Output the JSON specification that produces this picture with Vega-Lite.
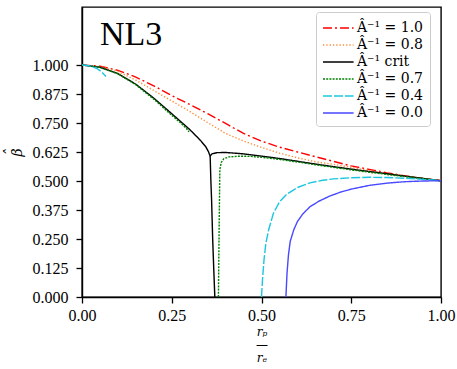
{
  "$schema": "https://vega.github.io/schema/vega-lite/v6.json",
  "width": 359,
  "height": 290,
  "autosize": {"type": "none"},
  "padding": {"left": 82, "top": 7, "right": 16, "bottom": 72},
  "background": "white",
  "config": {
    "view": {"stroke": "black", "strokeWidth": 1.4},
    "font": "Liberation Serif",
    "axis": {
      "grid": false,
      "labelFont": "Liberation Serif",
      "labelFontSize": 16,
      "labelColor": "black",
      "labelFlush": false,
      "labelOverlap": false,
      "tickColor": "black",
      "domainColor": "black",
      "tickSize": 6,
      "tickWidth": 1.3,
      "domainWidth": 1.4,
      "titleFont": "DejaVu Serif",
      "titleFontWeight": "normal",
      "titleFontStyle": "italic",
      "titleColor": "black",
      "titleFontSize": 14
    }
  },
  "encoding": {
    "x": {
      "field": "x", "type": "quantitative",
      "scale": {"domain": [0, 1], "nice": false, "zero": false},
      "axis": {"values": [0, 0.25, 0.5, 0.75, 1], "format": ".2f", "labelPadding": 4, "labelOverlap": false,
               "title": ["rₚ", "—", "rₑ"], "titleFontSize": 12, "titleLineHeight": 13, "titlePadding": 3}
    },
    "y": {
      "field": "y", "type": "quantitative",
      "scale": {"domain": [0, 1.25], "nice": false, "zero": false},
      "axis": {"values": [0, 0.125, 0.25, 0.375, 0.5, 0.625, 0.75, 0.875, 1.0], "format": ".3f",
               "labelOverlap": false, "labelPadding": 8, "title": ["ˆ", "β"], "titleLineHeight": 7, "titlePadding": 8}
    }
  },
  "layer": [
    {
      "data": {
        "values": [
          {"s": "1.0", "g": "r", "x": 0, "y": 1},
          {"s": "1.0", "g": "r", "x": 0.05, "y": 0.995},
          {"s": "1.0", "g": "r", "x": 0.1, "y": 0.977},
          {"s": "1.0", "g": "r", "x": 0.15, "y": 0.948},
          {"s": "1.0", "g": "r", "x": 0.2, "y": 0.91},
          {"s": "1.0", "g": "r", "x": 0.25, "y": 0.868},
          {"s": "1.0", "g": "r", "x": 0.3, "y": 0.83},
          {"s": "1.0", "g": "r", "x": 0.35, "y": 0.79},
          {"s": "1.0", "g": "r", "x": 0.4, "y": 0.748},
          {"s": "1.0", "g": "r", "x": 0.45, "y": 0.705},
          {"s": "1.0", "g": "r", "x": 0.5, "y": 0.672},
          {"s": "1.0", "g": "r", "x": 0.55, "y": 0.646},
          {"s": "1.0", "g": "r", "x": 0.6, "y": 0.625},
          {"s": "1.0", "g": "r", "x": 0.65, "y": 0.605},
          {"s": "1.0", "g": "r", "x": 0.7, "y": 0.585},
          {"s": "1.0", "g": "r", "x": 0.75, "y": 0.565},
          {"s": "1.0", "g": "r", "x": 0.8, "y": 0.55},
          {"s": "1.0", "g": "r", "x": 0.85, "y": 0.535},
          {"s": "1.0", "g": "r", "x": 0.9, "y": 0.522},
          {"s": "1.0", "g": "r", "x": 0.95, "y": 0.511},
          {"s": "1.0", "g": "r", "x": 1, "y": 0.502},

          {"s": "0.8", "g": "o", "x": 0, "y": 1},
          {"s": "0.8", "g": "o", "x": 0.05, "y": 0.993},
          {"s": "0.8", "g": "o", "x": 0.1, "y": 0.972},
          {"s": "0.8", "g": "o", "x": 0.15, "y": 0.935},
          {"s": "0.8", "g": "o", "x": 0.2, "y": 0.89},
          {"s": "0.8", "g": "o", "x": 0.25, "y": 0.845},
          {"s": "0.8", "g": "o", "x": 0.3, "y": 0.8},
          {"s": "0.8", "g": "o", "x": 0.35, "y": 0.752},
          {"s": "0.8", "g": "o", "x": 0.4, "y": 0.705},
          {"s": "0.8", "g": "o", "x": 0.45, "y": 0.672},
          {"s": "0.8", "g": "o", "x": 0.5, "y": 0.645},
          {"s": "0.8", "g": "o", "x": 0.55, "y": 0.62},
          {"s": "0.8", "g": "o", "x": 0.6, "y": 0.6},
          {"s": "0.8", "g": "o", "x": 0.65, "y": 0.583},
          {"s": "0.8", "g": "o", "x": 0.7, "y": 0.572},
          {"s": "0.8", "g": "o", "x": 0.75, "y": 0.559},
          {"s": "0.8", "g": "o", "x": 0.8, "y": 0.545},
          {"s": "0.8", "g": "o", "x": 0.85, "y": 0.533},
          {"s": "0.8", "g": "o", "x": 0.9, "y": 0.522},
          {"s": "0.8", "g": "o", "x": 0.95, "y": 0.511},
          {"s": "0.8", "g": "o", "x": 1, "y": 0.501},

          {"s": "crit", "g": "ku", "x": 0, "y": 1},
          {"s": "crit", "g": "ku", "x": 0.05, "y": 0.99},
          {"s": "crit", "g": "ku", "x": 0.1, "y": 0.963},
          {"s": "crit", "g": "ku", "x": 0.15, "y": 0.917},
          {"s": "crit", "g": "ku", "x": 0.2, "y": 0.857},
          {"s": "crit", "g": "ku", "x": 0.25, "y": 0.79},
          {"s": "crit", "g": "ku", "x": 0.3, "y": 0.722},
          {"s": "crit", "g": "ku", "x": 0.33, "y": 0.675},
          {"s": "crit", "g": "ku", "x": 0.345, "y": 0.647},
          {"s": "crit", "g": "ku", "x": 0.352, "y": 0.627},
          {"s": "crit", "g": "ku", "x": 0.357, "y": 0.607},
          {"s": "crit", "g": "ku", "x": 0.362, "y": 0.617},
          {"s": "crit", "g": "ku", "x": 0.375, "y": 0.622},
          {"s": "crit", "g": "ku", "x": 0.4, "y": 0.623},
          {"s": "crit", "g": "ku", "x": 0.45, "y": 0.617},
          {"s": "crit", "g": "ku", "x": 0.5, "y": 0.607},
          {"s": "crit", "g": "ku", "x": 0.55, "y": 0.597},
          {"s": "crit", "g": "ku", "x": 0.6, "y": 0.585},
          {"s": "crit", "g": "ku", "x": 0.65, "y": 0.573},
          {"s": "crit", "g": "ku", "x": 0.7, "y": 0.562},
          {"s": "crit", "g": "ku", "x": 0.75, "y": 0.551},
          {"s": "crit", "g": "ku", "x": 0.8, "y": 0.541},
          {"s": "crit", "g": "ku", "x": 0.85, "y": 0.531},
          {"s": "crit", "g": "ku", "x": 0.9, "y": 0.521},
          {"s": "crit", "g": "ku", "x": 0.95, "y": 0.511},
          {"s": "crit", "g": "ku", "x": 1, "y": 0.501},
          {"s": "crit", "g": "kd", "x": 0.357, "y": 0.607},
          {"s": "crit", "g": "kd", "x": 0.359, "y": 0.5},
          {"s": "crit", "g": "kd", "x": 0.361, "y": 0.418},
          {"s": "crit", "g": "kd", "x": 0.364, "y": 0.25},
          {"s": "crit", "g": "kd", "x": 0.367, "y": 0.12},
          {"s": "crit", "g": "kd", "x": 0.37, "y": 0},

          {"s": "0.7", "g": "gu", "x": 0, "y": 1},
          {"s": "0.7", "g": "gu", "x": 0.05, "y": 0.99},
          {"s": "0.7", "g": "gu", "x": 0.1, "y": 0.962},
          {"s": "0.7", "g": "gu", "x": 0.15, "y": 0.915},
          {"s": "0.7", "g": "gu", "x": 0.2, "y": 0.853},
          {"s": "0.7", "g": "gu", "x": 0.25, "y": 0.783},
          {"s": "0.7", "g": "gu", "x": 0.275, "y": 0.75},
          {"s": "0.7", "g": "gu", "x": 0.29, "y": 0.728},
          {"s": "0.7", "g": "gu", "x": 0.298, "y": 0.712},
          {"s": "0.7", "g": "gd", "x": 0.38, "y": 0},
          {"s": "0.7", "g": "gd", "x": 0.382, "y": 0.3},
          {"s": "0.7", "g": "gd", "x": 0.384, "y": 0.55},
          {"s": "0.7", "g": "gd", "x": 0.388, "y": 0.58},
          {"s": "0.7", "g": "gd", "x": 0.395, "y": 0.596},
          {"s": "0.7", "g": "gd", "x": 0.41, "y": 0.604},
          {"s": "0.7", "g": "gd", "x": 0.44, "y": 0.607},
          {"s": "0.7", "g": "gd", "x": 0.47, "y": 0.606},
          {"s": "0.7", "g": "gd", "x": 0.5, "y": 0.602},
          {"s": "0.7", "g": "gd", "x": 0.55, "y": 0.593},
          {"s": "0.7", "g": "gd", "x": 0.6, "y": 0.582},
          {"s": "0.7", "g": "gd", "x": 0.65, "y": 0.57},
          {"s": "0.7", "g": "gd", "x": 0.7, "y": 0.559},
          {"s": "0.7", "g": "gd", "x": 0.75, "y": 0.548},
          {"s": "0.7", "g": "gd", "x": 0.8, "y": 0.538},
          {"s": "0.7", "g": "gd", "x": 0.85, "y": 0.528},
          {"s": "0.7", "g": "gd", "x": 0.9, "y": 0.519},
          {"s": "0.7", "g": "gd", "x": 0.95, "y": 0.51},
          {"s": "0.7", "g": "gd", "x": 1, "y": 0.5},

          {"s": "0.4", "g": "cu", "x": 0, "y": 1},
          {"s": "0.4", "g": "cu", "x": 0.02, "y": 0.997},
          {"s": "0.4", "g": "cu", "x": 0.04, "y": 0.986},
          {"s": "0.4", "g": "cu", "x": 0.055, "y": 0.97},
          {"s": "0.4", "g": "cu", "x": 0.067, "y": 0.95},
          {"s": "0.4", "g": "cd", "x": 0.5, "y": 0},
          {"s": "0.4", "g": "cd", "x": 0.503, "y": 0.08},
          {"s": "0.4", "g": "cd", "x": 0.507, "y": 0.16},
          {"s": "0.4", "g": "cd", "x": 0.512, "y": 0.23},
          {"s": "0.4", "g": "cd", "x": 0.52, "y": 0.29},
          {"s": "0.4", "g": "cd", "x": 0.533, "y": 0.36},
          {"s": "0.4", "g": "cd", "x": 0.55, "y": 0.41},
          {"s": "0.4", "g": "cd", "x": 0.57, "y": 0.443},
          {"s": "0.4", "g": "cd", "x": 0.6, "y": 0.472},
          {"s": "0.4", "g": "cd", "x": 0.635, "y": 0.492},
          {"s": "0.4", "g": "cd", "x": 0.67, "y": 0.503},
          {"s": "0.4", "g": "cd", "x": 0.7, "y": 0.509},
          {"s": "0.4", "g": "cd", "x": 0.75, "y": 0.514},
          {"s": "0.4", "g": "cd", "x": 0.8, "y": 0.516},
          {"s": "0.4", "g": "cd", "x": 0.85, "y": 0.515},
          {"s": "0.4", "g": "cd", "x": 0.9, "y": 0.512},
          {"s": "0.4", "g": "cd", "x": 0.95, "y": 0.507},
          {"s": "0.4", "g": "cd", "x": 1, "y": 0.502},

          {"s": "0.0", "g": "b", "x": 0.568, "y": 0},
          {"s": "0.0", "g": "b", "x": 0.571, "y": 0.1},
          {"s": "0.0", "g": "b", "x": 0.575, "y": 0.18},
          {"s": "0.0", "g": "b", "x": 0.58, "y": 0.24},
          {"s": "0.0", "g": "b", "x": 0.59, "y": 0.29},
          {"s": "0.0", "g": "b", "x": 0.6, "y": 0.325},
          {"s": "0.0", "g": "b", "x": 0.615, "y": 0.358},
          {"s": "0.0", "g": "b", "x": 0.635, "y": 0.389},
          {"s": "0.0", "g": "b", "x": 0.66, "y": 0.413},
          {"s": "0.0", "g": "b", "x": 0.69, "y": 0.435},
          {"s": "0.0", "g": "b", "x": 0.72, "y": 0.452},
          {"s": "0.0", "g": "b", "x": 0.75, "y": 0.465},
          {"s": "0.0", "g": "b", "x": 0.8, "y": 0.481},
          {"s": "0.0", "g": "b", "x": 0.85, "y": 0.491},
          {"s": "0.0", "g": "b", "x": 0.9, "y": 0.497},
          {"s": "0.0", "g": "b", "x": 0.95, "y": 0.5},
          {"s": "0.0", "g": "b", "x": 1, "y": 0.501}
        ]
      },
      "mark": {"type": "line", "strokeWidth": 1.4, "clip": true},
      "encoding": {
        "detail": {"field": "g"},
        "color": {
          "field": "s", "type": "nominal",
          "scale": {
            "domain": ["1.0", "0.8", "crit", "0.7", "0.4", "0.0"],
            "range": ["#ff0000", "#ff8c3a", "#000000", "#008000", "#1cc6e0", "#4848ff"]
          },
          "legend": {
            "title": null,
            "orient": "none",
            "legendX": 234,
            "legendY": 5,
            "padding": 6,
            "rowPadding": 0,
            "fillColor": "white",
            "strokeColor": "#cccccc",
            "cornerRadius": 3,
            "symbolType": "M-1,0H2.4",
            "symbolSize": 324,
            "symbolStrokeWidth": 1.5,
            "labelOffset": 15,
            "labelFont": "DejaVu Serif",
            "labelFontSize": 14,
            "labelColor": "black",
            "labelLimit": 200,
            "labelExpr": "datum.label == 'crit' ? 'Â⁻¹ crit' : 'Â⁻¹ = ' + datum.label"
          }
        },
        "strokeDash": {
          "field": "s", "type": "nominal",
          "scale": {
            "domain": ["1.0", "0.8", "crit", "0.7", "0.4", "0.0"],
            "range": [[9, 3, 2, 3], [1.3, 2], [1, 0], [2, 1.2], [9, 2], [1, 0]]
          },
          "legend": null
        }
      }
    },
    {
      "data": {"values": [{"x": 0.05, "y": 1.085, "t": "NL3"}]},
      "mark": {"type": "text", "align": "left", "baseline": "alphabetic", "font": "Liberation Serif", "fontSize": 34, "color": "black"},
      "encoding": {
        "text": {"field": "t"}
      }
    }
  ]
}
